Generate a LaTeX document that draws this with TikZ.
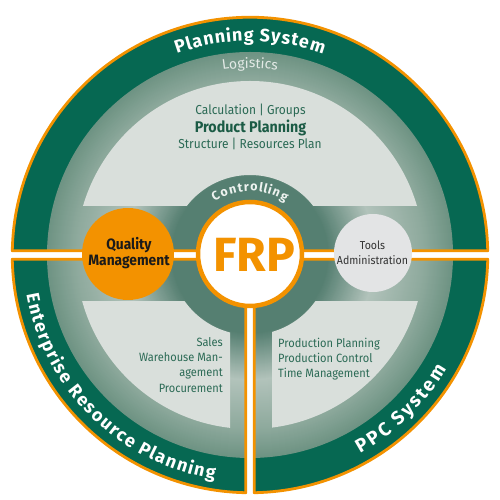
\documentclass[tikz,border=0pt]{standalone}
\usepackage{fontspec}
\setmainfont{Fira Sans}
\newfontfamily\narrowfont[FakeStretch=0.92]{Fira Sans}
\usetikzlibrary{calc,decorations.text}
\definecolor{dkgreen}{HTML}{066852}
\definecolor{frporange}{HTML}{F39200}
\definecolor{lightreg}{HTML}{D9DFDB}
\definecolor{toolsgray}{HTML}{E3E4E5}
\definecolor{ringDark}{HTML}{557F71}
\definecolor{ringLight}{HTML}{B2C3BB}
\definecolor{ringMid}{HTML}{8DA99C}
\definecolor{ringOuter}{HTML}{6E9383}
\definecolor{bodytext}{HTML}{2B6A55}
\definecolor{boldtext}{HTML}{1B5B45}
\definecolor{logtext}{HTML}{E3EAE6}
\definecolor{ctrltext}{HTML}{EEF3F0}
\definecolor{darktext}{HTML}{1A1A1A}
\definecolor{toolstext}{HTML}{333333}
\begin{document}
\begin{tikzpicture}[x=1pt,y=1pt,
  sectorline/.style={draw=frporange, line width=2.8pt, line join=round},
  lightfill/.style={fill=lightreg, even odd rule},
  toplabel/.style={text=bodytext, inner sep=0pt, anchor=base, font=\narrowfont\fontsize{13}{15}\selectfont},
  botlabel/.style={text=bodytext, inner sep=0pt, font=\narrowfont\fontsize{12}{15}\selectfont}
]
\useasboundingbox (0,0) rectangle (500,500);
\fill[white] (0,0) rectangle (500,500);
\coordinate (C) at (250,245);
% outer dark ring
\fill[dkgreen] (C) circle (237.75);
% radial gradient band
\foreach \r in {203,202,...,1} {
  \ifdim\r pt>175pt
    \pgfmathtruncatemacro\p{(\r-175)/28*100}
    \colorlet{cc}{ringOuter!\p!ringMid}
  \else\ifdim\r pt>125pt
    \pgfmathtruncatemacro\p{(\r-125)/50*100}
    \colorlet{cc}{ringMid!\p!ringLight}
  \else\ifdim\r pt>78pt
    \pgfmathtruncatemacro\p{(\r-78)/47*100}
    \colorlet{cc}{ringLight!\p!ringDark}
  \else
    \colorlet{cc}{ringDark}
  \fi\fi\fi
  \fill[cc] (C) circle (\r);
}
% light regions
\begin{scope}
  \clip (0,294) rectangle (500,500);
  \fill[lightfill] (C) circle (174) (C) circle (80);
\end{scope}
\begin{scope}
  \clip (0,0) rectangle (230,198);
  \fill[lightfill] (C) circle (174) (C) circle (80);
\end{scope}
\begin{scope}
  \clip (272,0) rectangle (500,198);
  \fill[lightfill] (C) circle (174) (C) circle (80);
\end{scope}
% white gaps
\fill[white] (5,240.75) rectangle (495,249.25);
\fill[white] (245.75,0) rectangle (254.25,240.75);
% orange sector outlines
\draw[sectorline] (487.712,249.25) arc[start angle=1.024, end angle=178.976, radius=237.75] -- cycle;
\draw[sectorline] (245.75,240.75) -- (12.288,240.75) arc[start angle=181.024, end angle=268.976, radius=237.75] -- cycle;
\draw[sectorline] (254.25,240.75) -- (254.25,7.288) arc[start angle=271.024, end angle=358.976, radius=237.75] -- cycle;
% circles
\node[circle, fill=frporange, minimum size=92, inner sep=0pt] (quality) at (128,246) {};
\node[circle, fill=toolsgray, minimum size=78, inner sep=0pt] (tools) at (373,247) {};
\node[circle, draw=frporange, line width=4.5pt, fill=white, minimum size=104, inner sep=0pt] (frp) at (250,246) {};
% center texts
\node[anchor=base, inner sep=0pt, text=frporange, font=\bfseries\fontsize{48}{48}\selectfont] (frptext) at (254,228) {FRP};
\node[anchor=base, inner sep=0pt, text=darktext, font=\narrowfont\bfseries\fontsize{15}{15}\selectfont] (qual1) at (129,250) {Quality};
\node[anchor=base, inner sep=0pt, text=darktext, font=\narrowfont\bfseries\fontsize{15}{15}\selectfont] (qual2) at (129,234) {Management};
\node[anchor=base, inner sep=0pt, text=toolstext, font=\narrowfont\fontsize{11.5}{12}\selectfont] (tools1) at (372.5,250) {Tools};
\node[anchor=base, inner sep=0pt, text=toolstext, font=\narrowfont\fontsize{11.5}{12}\selectfont] (tools2) at (372.5,235.5) {Administration};
% top light region texts
\node[toplabel] (calc) at (250.5,385) {Calculation \textbar{} Groups};
\node[anchor=base, inner sep=0pt, text=boldtext, font=\narrowfont\bfseries\fontsize{15.5}{15.5}\selectfont] (prodplan) at (250.5,367.3) {Product Planning};
\node[toplabel] (struct) at (250,351.3) {Structure \textbar{} Resources Plan};
% bottom-left texts
\node[botlabel, anchor=base east] (sales) at (223,153.3) {Sales};
\node[botlabel, anchor=base east] (wh1) at (223,138) {Warehouse Man-};
\node[botlabel, anchor=base east] (wh2) at (223,123) {agement};
\node[botlabel, anchor=base east] (proc) at (223,107.5) {Procurement};
% bottom-right texts
\node[botlabel, anchor=base west] (pp) at (278,152.7) {Production Planning};
\node[botlabel, anchor=base west] (pc) at (278,137.5) {Production Control};
\node[botlabel, anchor=base west] (tm) at (278,122.5) {Time Management};
% arc texts
{\bfseries\fontsize{18}{18}\selectfont
\path[decorate, decoration={text effects along path, text={Planning System}, text effects/.cd, text along path, fit text to path, characters={text=white, anchor=base, inner sep=0pt}}]
  ($(C)+(110:214)$) arc[start angle=110, end angle=70, radius=214];
\path[decorate, decoration={text effects along path, text={Enterprise Resource Planning}, text effects/.cd, text along path, fit text to path, characters={text=white, anchor=base, inner sep=0pt}}]
  ($(C)+(190:227)$) arc[start angle=190, end angle=261, radius=227];
}
{\bfseries\fontsize{19}{19}\selectfont
\path[decorate, decoration={text effects along path, text={PPC System}, text effects/.cd, text along path, fit text to path, characters={text=white, anchor=base, inner sep=0pt}}]
  ($(C)+(299:227)$) arc[start angle=299, end angle=330, radius=227];
}
{\bfseries\fontsize{12.5}{12.5}\selectfont
\path[decorate, decoration={text effects along path, text={Controlling}, text effects/.cd, text along path, fit text to path, characters={text=ctrltext, anchor=base, inner sep=0pt}}]
  ($(frp.center)+(124:63)$) arc[start angle=124, end angle=56, radius=63];
}
{\fontsize{14}{14}\selectfont
\path[decorate, decoration={text along path, text={Logistics}, text align=center, text color=logtext}]
  ($(C)+(100:187)$) arc[start angle=100, end angle=80, radius=187];
}
\end{tikzpicture}
\end{document}
